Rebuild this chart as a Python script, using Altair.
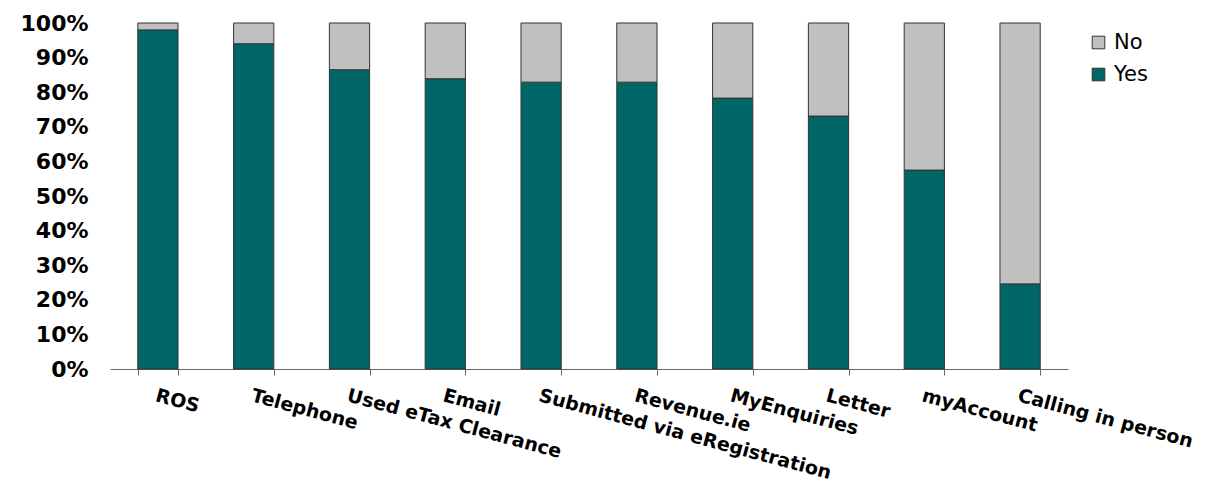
import altair as alt
import pandas as pd

categories = ["ROS", "Telephone", "Used eTax Clearance", "Email",
              "Submitted via eRegistration", "Revenue.ie", "MyEnquiries",
              "Letter", "myAccount", "Calling in person"]
yes_vals = [0.980, 0.940, 0.865, 0.839, 0.829, 0.829, 0.783, 0.731, 0.575, 0.246]
no_vals = [0.020, 0.060, 0.135, 0.161, 0.171, 0.171, 0.217, 0.269, 0.425, 0.754]
series = ["No", "Yes"]
colors = ["#C0C0C0", "#006666"]
y_ticks = [0, 0.1, 0.2, 0.3, 0.4, 0.5, 0.6, 0.7, 0.8, 0.9, 1.0]

rows = []
for c, y, n in zip(categories, yes_vals, no_vals):
    rows.append({"category": c, "answer": "Yes", "value": y, "ord": 0})
    rows.append({"category": c, "answer": "No", "value": n, "ord": 1})
df = pd.DataFrame(rows)

FONT = "DejaVu Sans"

chart = alt.Chart(df).mark_bar(stroke="#333333", strokeWidth=1).encode(
    x=alt.X("category:N", sort=categories, title=None,
            scale=alt.Scale(paddingInner=0.58, paddingOuter=0.29),
            axis=alt.Axis(labelAngle=15, labelAlign="left", labelBaseline="top",
                          labelFont=FONT, labelFontWeight="bold", labelFontSize=19,
                          labelColor="#000000", labelPadding=11, labelOffset=0,
                          tickBand="extent", tickSize=6, tickColor="#666666",
                          domainColor="#666666", domainWidth=1.2, labelLimit=500)),
    y=alt.Y("value:Q", stack="zero", title=None,
            scale=alt.Scale(domain=[0, 1], nice=False),
            axis=alt.Axis(values=y_ticks, format=".0%", grid=False, domain=False,
                          ticks=False, labelFont=FONT, labelFontWeight="bold",
                          labelFontSize=22, labelColor="#000000", labelPadding=22)),
    color=alt.Color("answer:N", scale=alt.Scale(domain=series, range=colors),
                    legend=alt.Legend(title=None, orient="none", legendX=978, legendY=9,
                                      symbolType="square", symbolSize=160,
                                      symbolStrokeColor="#333333", symbolStrokeWidth=1,
                                      labelFont=FONT, labelFontSize=21, labelColor="#000000",
                                      labelOffset=5, rowPadding=10)),
    order=alt.Order("ord:Q", sort="ascending"),
).properties(
    width=958, height=346,
    autosize=alt.AutoSizeParams(type="none"),
    padding={"left": 102, "top": 15, "right": 129, "bottom": 113},
).configure_view(stroke=None)

chart.save("out.html", embed_options={"renderer": "svg", "actions": False})
